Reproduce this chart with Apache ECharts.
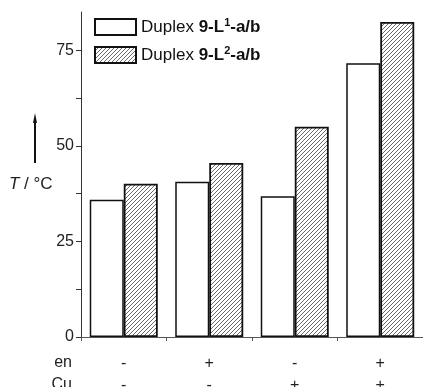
<!DOCTYPE html>
<html>
<head>
<meta charset="utf-8">
<script src="https://cdn.jsdelivr.net/npm/echarts@6/dist/echarts.min.js"></script>
<style>
  html, body { margin: 0; padding: 0; background: #fff; }
  #main { width: 423px; height: 387px; }
</style>
</head>
<body>
<div id="main"></div>
<script>
var categories = ['-\n-', '+\n-', '-\n+', '+\n+'];
var seriesNames = ['L1', 'L2'];
var valuesL1 = [35.9, 40.6, 36.8, 71.6];
var valuesL2 = [40.1, 45.5, 55.0, 82.4];
var yTicks = [0, 12.5, 25, 37.5, 50, 62.5, 75];
var yLabels = [0, 25, 50, 75];

// hatch pattern "////"
function makeHatch() {
    var c = document.createElement('canvas');
    c.width = 4; c.height = 4;
    var ctx = c.getContext('2d');
    ctx.fillStyle = '#fff';
    ctx.fillRect(0, 0, 4, 4);
    ctx.strokeStyle = '#444';
    ctx.lineWidth = 0.8;
    ctx.beginPath();
    ctx.moveTo(-1, 5); ctx.lineTo(5, -1);
    ctx.moveTo(-1, 1); ctx.lineTo(1, -1);
    ctx.moveTo(3, 5); ctx.lineTo(5, 3);
    ctx.stroke();
    return c;
}
var hatch = makeHatch();

var font = 'Liberation Sans';
var legendRich = {
    n: { fontSize: 17, fontFamily: font, color: '#111' },
    b: { fontSize: 17, fontFamily: font, fontWeight: 'bold', color: '#111' },
    s: { fontSize: 11, fontFamily: font, fontWeight: 'bold', color: '#111', padding: [0, 0, 9, 0] }
};

var chart = echarts.init(document.getElementById('main'));
var option = {
    animation: false,
    grid: { left: 81, right: 0, top: 12, bottom: 50, outerBoundsMode: 'none' },
    legend: {
        orient: 'vertical',
        left: 94,
        top: 17,
        padding: 0,
        icon: 'rect',
        itemWidth: 41,
        itemHeight: 16,
        itemGap: 9,
        data: seriesNames,
        formatter: function (name) {
            var sup = name === 'L1' ? '1' : '2';
            return '{n|Duplex }{b|9-L}{s|' + sup + '}{b|-a/b}';
        },
        textStyle: { rich: legendRich }
    },
    xAxis: {
        type: 'category',
        data: categories,
        axisLine: { lineStyle: { color: '#555', width: 1 } },
        axisTick: { show: true, length: 4, inside: false, lineStyle: { color: '#555' } },
        axisLabel: {
            color: '#222', fontFamily: font, fontSize: 16, lineHeight: 22, margin: 16
        }
    },
    yAxis: {
        type: 'value',
        min: 0,
        max: 85,
        splitLine: { show: false },
        axisLine: { show: true, lineStyle: { color: '#333', width: 1 } },
        axisTick: { show: true, length: 5, customValues: yTicks, lineStyle: { color: '#333' } },
        axisLabel: {
            customValues: yLabels, color: '#222', fontFamily: font, fontSize: 16, margin: 7
        }
    },
    graphic: [
        {
            type: 'text', left: 9, top: 176,
            style: {
                text: '{i|T} / °C',
                fill: '#222',
                font: '17px "Liberation Sans"',
                rich: { i: { fontStyle: 'italic', fontSize: 17, fontFamily: font, fill: '#222' } }
            }
        },
        {
            type: 'line',
            shape: { x1: 35, y1: 163, x2: 35, y2: 121 },
            style: { stroke: '#111', lineWidth: 2 }
        },
        {
            type: 'polygon',
            shape: { points: [[33, 123], [37, 123], [35, 113]] },
            style: { fill: '#111' }
        },
        {
            type: 'text', right: 351, top: 355,
            style: { text: 'en', fill: '#222', font: '16px "Liberation Sans"' }
        },
        {
            type: 'text', right: 351, top: 377,
            style: { text: 'Cu', fill: '#222', font: '16px "Liberation Sans"' }
        }
    ],
    series: [
        {
            name: 'L1',
            type: 'bar',
            barWidth: 34,
            barGap: '0%',
            data: valuesL1,
            itemStyle: { color: '#fff', borderColor: '#111', borderWidth: 1.5 }
        },
        {
            name: 'L2',
            type: 'bar',
            barWidth: 34,
            barGap: '0%',
            data: valuesL2,
            itemStyle: { color: { image: hatch, repeat: 'repeat' }, borderColor: '#111', borderWidth: 1.8 }
        }
    ]
};
chart.setOption(option);
</script>
</body>
</html>
